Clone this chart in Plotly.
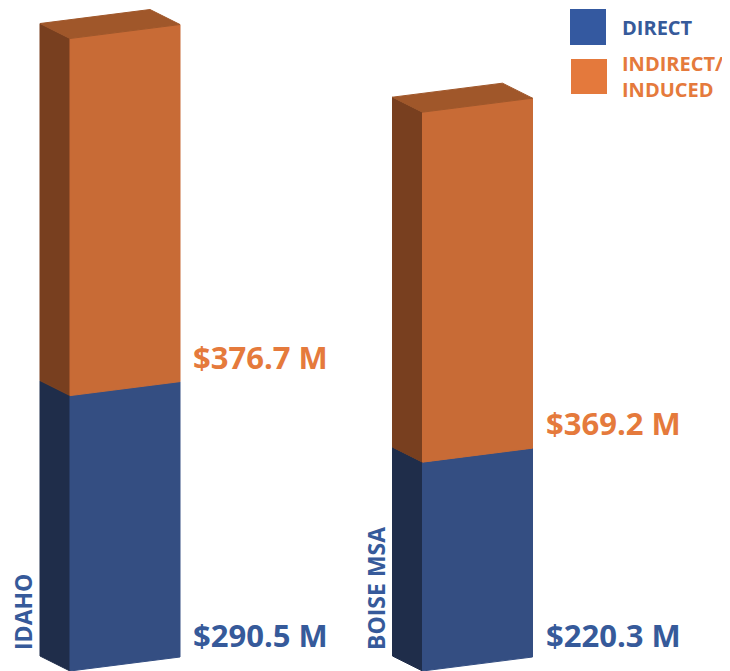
import plotly.graph_objects as go

# ---------------- data ----------------
categories = ["IDAHO", "BOISE MSA"]
direct = [290.5, 220.3]
indirect = [376.7, 369.2]
direct_labels = ["$290.5 M", "$220.3 M"]
indirect_labels = ["$376.7 M", "$369.2 M"]
series_names = ["DIRECT", "INDIRECT/<br>INDUCED"]

# ---------------- style ----------------
# the page body has an 8px margin, so the figure is drawn 8px smaller
OFF = 8
W, H = 730 - OFF, 671 - OFF
FONT = "Open Sans"
X_RANGE = [-0.3319, 1.7163]
Y_RANGE = [0, 699.4]
px_x = W / (X_RANGE[1] - X_RANGE[0])
px_y = H / (Y_RANGE[1] - Y_RANGE[0])

HW = 55 / px_x          # half width of front face
DX = 30 / px_x          # depth offset (left)
DY = 15 / px_y          # depth offset (up)
SL = 14 / px_y          # front face tilt

colors = {
    "direct": {"front": "#344E82", "side": "#1F2D4A", "top": "#2A4170",
               "legend": "#3459A0", "text": "#365A9A"},
    "indirect": {"front": "#C86B36", "side": "#783F1F", "top": "#A0572A",
                 "legend": "#E4793C", "text": "#E57A3C"},
}

fig = go.Figure()


def poly(xs, ys, color):
    fig.add_trace(go.Scatter(
        x=xs + [xs[0]], y=ys + [ys[0]], mode="lines", fill="toself",
        fillcolor=color, line=dict(color=color, width=1),
        hoverinfo="skip", showlegend=False))


def segment(i, v0, v1, c, top):
    xl, xr = i - HW, i + HW
    # side face
    poly([xl - DX, xl, xl, xl - DX], [v0 + DY, v0, v1, v1 + DY], c["side"])
    # front face
    poly([xl, xr, xr, xl], [v0, v0 + SL, v1 + SL, v1], c["front"])
    if top:
        poly([xl, xr, xr - DX, xl - DX],
             [v1, v1 + SL, v1 + SL + DY, v1 + DY], c["top"])


annotations = []
for i, cat in enumerate(categories):
    d, ind = direct[i], indirect[i]
    segment(i, 0, d, colors["direct"], False)
    segment(i, d, d + ind, colors["indirect"], True)
    # value labels
    annotations.append(dict(
        x=i + HW, y=d + SL, xref="x", yref="y", xanchor="left", yanchor="bottom",
        xshift=11, yshift=2, text=indirect_labels[i], showarrow=False,
        font=dict(family=FONT, size=31, color=colors["indirect"]["text"], weight=700)))
    annotations.append(dict(
        x=i + HW, y=SL, xref="x", yref="y", xanchor="left", yanchor="bottom",
        xshift=11, yshift=-1, text=direct_labels[i], showarrow=False,
        font=dict(family=FONT, size=31, color=colors["direct"]["text"], weight=700)))
    # category label
    annotations.append(dict(
        x=i - HW, y=0, xref="x", yref="y", xanchor="center", yanchor="bottom",
        xshift=-47, yshift=19, text=cat, textangle=-90, showarrow=False,
        font=dict(family=FONT, size=23, color=colors["direct"]["text"], weight=700)))


def px2paper(x, y):
    return (x - OFF) / W, 1 - (y - OFF) / H


# legend
bx0, by1 = px2paper(570, 9)
bx1, by0 = px2paper(606, 45)
ox0, oy1 = px2paper(571, 59)
ox1, oy0 = px2paper(607, 94)
shapes = [
    dict(type="rect", xref="paper", yref="paper", x0=bx0, x1=bx1, y0=by0, y1=by1,
         fillcolor=colors["direct"]["legend"], line=dict(width=0)),
    dict(type="rect", xref="paper", yref="paper", x0=ox0, x1=ox1, y0=oy0, y1=oy1,
         fillcolor=colors["indirect"]["legend"], line=dict(width=0)),
]
for txt, yc, key in [(series_names[0], 27, "direct"),
                     (series_names[1], 77, "indirect")]:
    lx, ly = px2paper(620, yc)
    annotations.append(dict(
        x=lx, y=ly, xref="paper", yref="paper", xanchor="left", yanchor="middle",
        align="left", text=txt, showarrow=False,
        font=dict(family=FONT, size=20, color=colors[key]["text"], weight=700)))

fig.update_layout(
    width=W, height=H, margin=dict(l=0, r=0, t=0, b=0),
    paper_bgcolor="white", plot_bgcolor="white",
    xaxis=dict(range=X_RANGE, visible=False, fixedrange=True),
    yaxis=dict(range=Y_RANGE, visible=False, fixedrange=True),
    shapes=shapes, annotations=annotations, showlegend=False,
)

fig.write_html("out.html")
